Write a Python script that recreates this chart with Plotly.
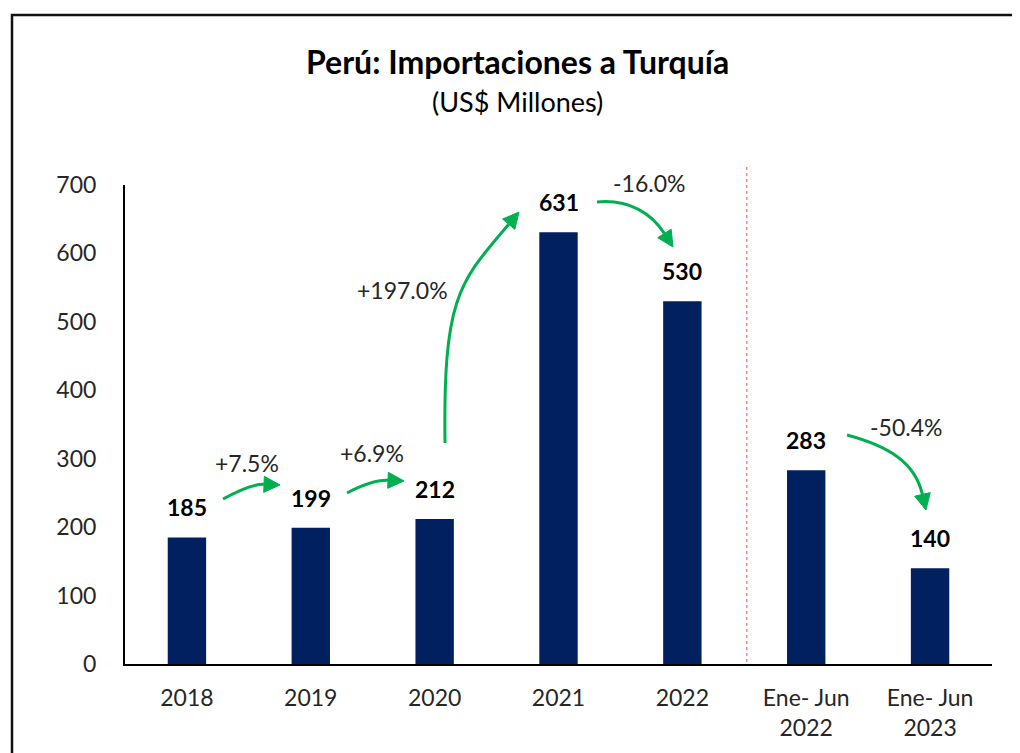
import math
import plotly.graph_objects as go

# ---------------- data ----------------
categories = ["2018", "2019", "2020", "2021", "2022", "Ene- Jun<br>2022", "Ene- Jun<br>2023"]
values = [185, 199, 212, 631, 530, 283, 140]
pct_labels = ["+7.5%", "+6.9%", "+197.0%", "-16.0%", "-50.4%"]
title_text = "Perú: Importaciones a Turquía"
subtitle_text = "(US$ Millones)"

# ---------------- layout geometry ----------------
OFF = 8  # page body margin
W, H = 1020 - OFF, 753 - OFF
PLOT_L, PLOT_R, PLOT_T, PLOT_B = 125, 992, 185, 664  # window pixels
ML, MR, MT, MB = PLOT_L - OFF, 1020 - PLOT_R, PLOT_T - OFF, 753 - PLOT_B
PW, PH = PLOT_R - PLOT_L, PLOT_B - PLOT_T

FONT = "Lato"
NAVY = "#002060"
GREEN = "#00B050"


def pp(x, y):
    """window pixel -> paper coords"""
    return (x - PLOT_L) / PW, (PLOT_B - y) / PH


def ps(x, y):
    a, b = pp(x, y)
    return f"{a:.5f},{b:.5f}"


fig = go.Figure()
fig.add_trace(go.Bar(
    x=list(range(len(values))), y=values, width=0.31,
    marker=dict(color=NAVY, line=dict(width=0)),
    hoverinfo="skip", showlegend=False,
))

shapes = []
annotations = []

# outer frame
x0, y0 = pp(12, 15)
x1, y1 = pp(1040, 775)
shapes.append(dict(type="rect", xref="paper", yref="paper", x0=x0, y0=y1, x1=x1, y1=y0,
                   line=dict(color="#111111", width=2.5), fillcolor="rgba(0,0,0,0)", layer="above"))

# red dashed separator
sx = (4.52 + 0.5) / len(values)
_, ya = pp(0, 167)
_, yb = pp(0, 662)
shapes.append(dict(type="line", xref="paper", yref="paper", x0=sx, x1=sx, y0=yb, y1=ya,
                   line=dict(color="#FF6B6B", width=1.2, dash="dot")))

# curved arrows (start, c1, c2, tip) in window pixels
arrows = [
    ((223, 499), (243, 488), (255, 484), (280, 485)),
    ((347, 493), (366, 483), (380, 480), (404, 481)),
    ((445, 443), (443, 295), (460, 282), (519, 212)),
    ((597, 202), (630, 199), (652, 214), (673, 247)),
    ((847, 435), (888, 446), (915, 462), (926, 510)),
]
AL, AW = 16, 16
for s, c1, c2, tip in arrows:
    dx, dy = tip[0] - c2[0], tip[1] - c2[1]
    n = math.hypot(dx, dy)
    ux, uy = dx / n, dy / n
    base = (tip[0] - AL * ux, tip[1] - AL * uy)
    path = f"M {ps(*s)} C {ps(*c1)} {ps(*c2)} {ps(*base)}"
    shapes.append(dict(type="path", xref="paper", yref="paper", path=path,
                       line=dict(color=GREEN, width=3), fillcolor="rgba(0,0,0,0)"))
    px_, py_ = -uy, ux
    b1 = (base[0] + AW / 2 * px_, base[1] + AW / 2 * py_)
    b2 = (base[0] - AW / 2 * px_, base[1] - AW / 2 * py_)
    tri = f"M {ps(*tip)} L {ps(*b1)} L {ps(*b2)} Z"
    shapes.append(dict(type="path", xref="paper", yref="paper", path=tri,
                       line=dict(color=GREEN, width=1), fillcolor=GREEN))

# percent labels (window pixel centres)
pct_pos = [(247, 463), (372, 453), (402, 290), (649, 183), (906, 427)]
for txt, (x, y) in zip(pct_labels, pct_pos):
    a, b = pp(x, y)
    annotations.append(dict(xref="paper", yref="paper", x=a, y=b, text=txt, showarrow=False,
                            xanchor="center", yanchor="middle",
                            font=dict(family=FONT, size=23, color="#262626")))

# value labels
for i, v in enumerate(values):
    annotations.append(dict(xref="x", yref="y", x=i, y=v, text=f"<b>{v}</b>", showarrow=False,
                            xanchor="center", yanchor="bottom", yshift=14,
                            font=dict(family=FONT, size=23, color="#000000")))

# title & subtitle
a, b = pp(517, 61)
annotations.append(dict(xref="paper", yref="paper", x=a, y=b, text=f"<b>{title_text}</b>",
                        showarrow=False, xanchor="center", yanchor="middle",
                        font=dict(family=FONT, size=32, color="#000000")))
a, b = pp(517, 101)
annotations.append(dict(xref="paper", yref="paper", x=a, y=b, text=subtitle_text,
                        showarrow=False, xanchor="center", yanchor="middle",
                        font=dict(family=FONT, size=27, color="#000000")))

fig.update_layout(
    width=W, height=H,
    margin=dict(l=ML, r=MR, t=MT, b=MB, pad=0),
    paper_bgcolor="white", plot_bgcolor="white",
    shapes=shapes, annotations=annotations,
    showlegend=False,
    xaxis=dict(range=[-0.5, len(values) - 0.5], tickvals=list(range(len(values))), ticktext=categories,
               showline=True, linecolor="black", linewidth=2, showgrid=False, zeroline=False,
               ticks="", ticklabelstandoff=12, fixedrange=True,
               tickfont=dict(family=FONT, size=23, color="#262626")),
    yaxis=dict(range=[0, 700], dtick=100, showline=True, linecolor="black", linewidth=2,
               showgrid=False, zeroline=False, ticks="", ticklabelstandoff=22, fixedrange=True,
               tickfont=dict(family=FONT, size=23, color="#262626")),
)

fig.write_html("out.html")
